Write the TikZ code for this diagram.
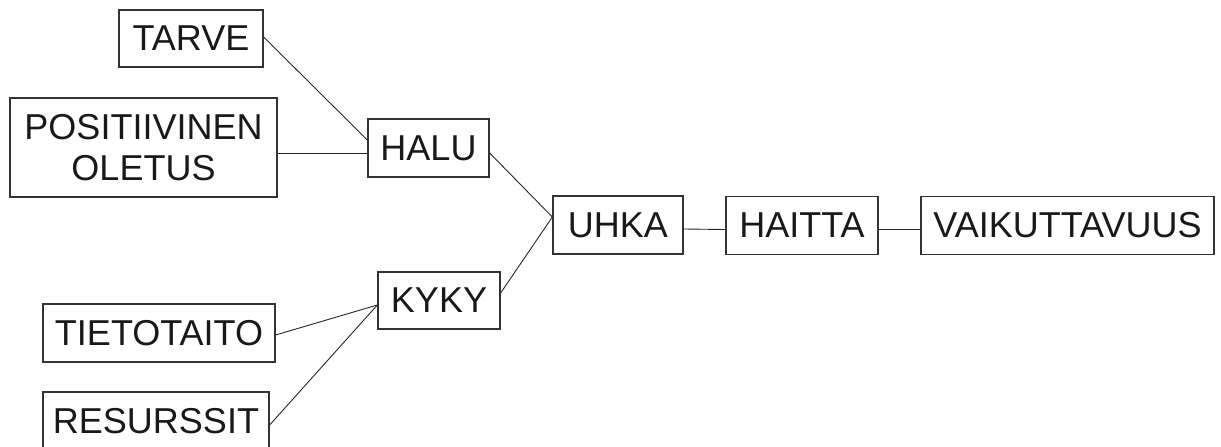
\documentclass[tikz,border=0pt]{standalone}
\usepackage{fontspec}
\setmainfont{Liberation Sans}
\begin{document}
\begin{tikzpicture}[x=1pt,y=-1pt,
  box/.style={draw=black!80,line width=1.3pt,rectangle,inner sep=0pt,align=center,
    font=\fontsize{36}{41}\selectfont,text=black!90},
  link/.style={draw=black!85,line width=0.9pt}]
\useasboundingbox (0,0) rectangle (1221,447);
\node[box,minimum width=144,minimum height=57] (tarve) at (191,38.5) {TARVE};
\node[box,minimum width=267,minimum height=99] (pos) at (143.5,147.5) {POSITIIVINEN\\OLETUS};
\node[box,minimum width=121,minimum height=58] (halu) at (428.5,148) {HALU};
\node[box,minimum width=122,minimum height=57] (kyky) at (439,300.5) {KYKY};
\node[box,minimum width=130,minimum height=58] (uhka) at (618,225) {UHKA};
\node[box,minimum width=152,minimum height=58] (haitta) at (802,225.5) {HAITTA};
\node[box,minimum width=293,minimum height=58] (vaik) at (1067.5,225.5) {VAIKUTTAVUUS};
\node[box,minimum width=232,minimum height=58] (tieto) at (159,333) {TIETOTAITO};
\node[box,minimum width=226,minimum height=58] (resu) at (156,421) {RESURSSIT};
\draw[link] ([yshift=1.5pt]tarve.east) -- ([yshift=8pt]halu.west);
\draw[link] ([yshift=-5.5pt]pos.east) -- ([yshift=-5pt]halu.west);
\draw[link] ([yshift=-5pt]halu.east) -- ([yshift=8pt]uhka.west);
\draw[link] ([yshift=7.5pt]kyky.east) -- ([yshift=8pt]uhka.west);
\draw[link] ([yshift=-2pt]tieto.east) -- ([yshift=-4.5pt]kyky.west);
\draw[link] ([yshift=-4pt]resu.east) -- ([yshift=-4.5pt]kyky.west);
\draw[link] ([yshift=-4pt]uhka.east) -- ([yshift=-4pt]haitta.west);
\draw[link] ([yshift=-4pt]haitta.east) -- ([yshift=-4pt]vaik.west);
\end{tikzpicture}
\end{document}
